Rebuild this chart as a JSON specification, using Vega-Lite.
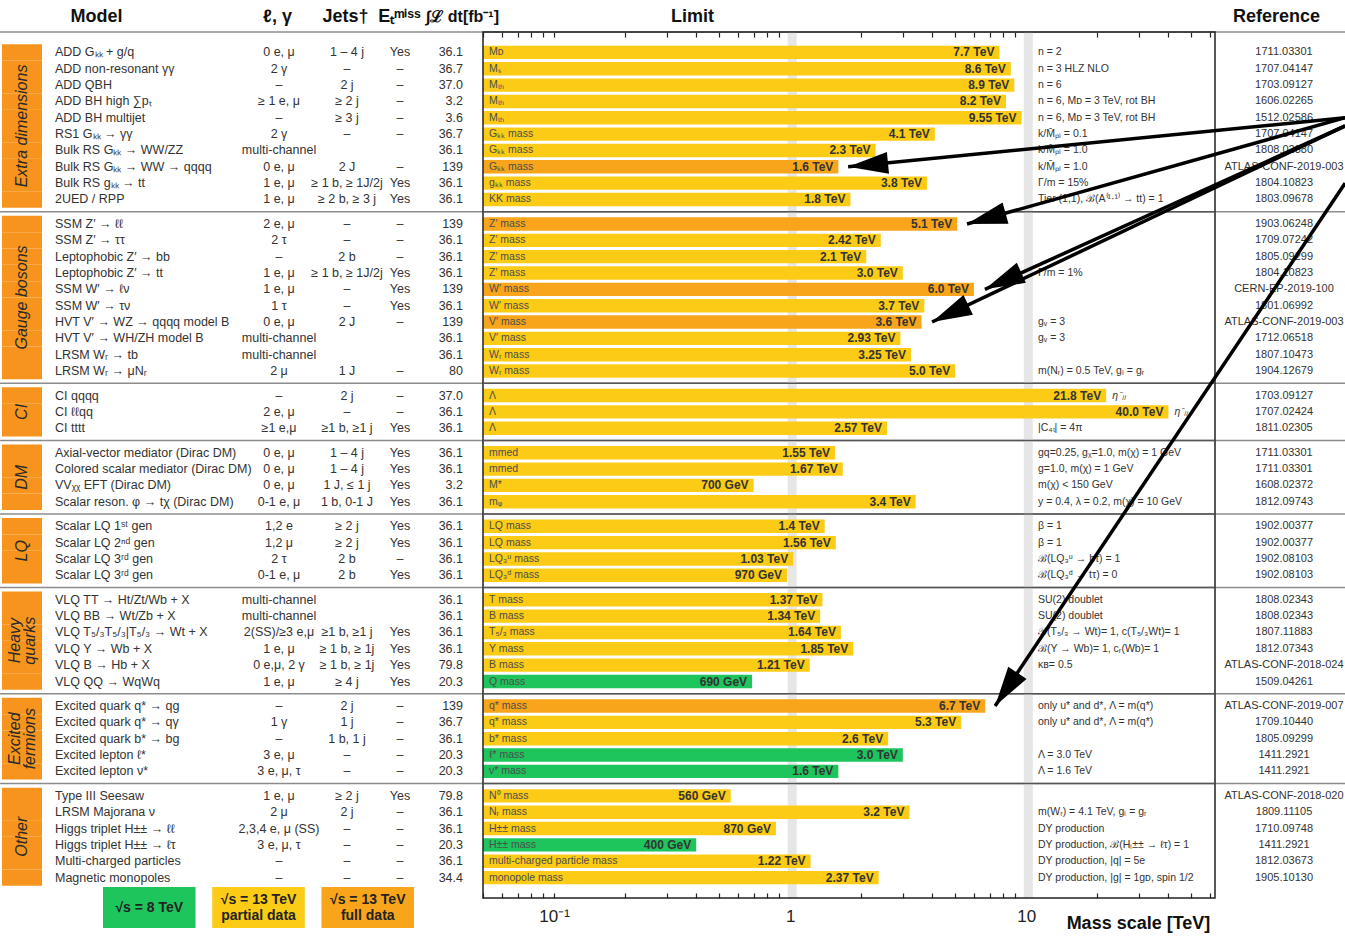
{
"$schema": "https://vega.github.io/schema/vega-lite/v6.json",
"width": 1345,
"height": 866,
"autosize": {"type": "none"},
"padding": {"top": 32, "bottom": 38, "left": 0, "right": 0},
"background": "white",
"config": {"view": {"stroke": null}, "font": "Liberation Sans"},
"datasets": {
"rows": [
{"id":"ed1","model":"ADD Gₖₖ + g/q","lep":"0 e, μ","jets":"1 – 4 j","met":"Yes","lumi":"36.1","name":"Mᴅ","limit":7.7,"label":"7.7 TeV","cat":"13 TeV partial","cond":"n = 2","ref":"1711.03301"},
{"id":"ed2","model":"ADD non-resonant γγ","lep":"2 γ","jets":"–","met":"–","lumi":"36.7","name":"Mₛ","limit":8.6,"label":"8.6 TeV","cat":"13 TeV partial","cond":"n = 3 HLZ NLO","ref":"1707.04147"},
{"id":"ed3","model":"ADD QBH","lep":"–","jets":"2 j","met":"–","lumi":"37.0","name":"Mₜₕ","limit":8.9,"label":"8.9 TeV","cat":"13 TeV partial","cond":"n = 6","ref":"1703.09127"},
{"id":"ed4","model":"ADD BH high ∑pₜ","lep":"≥ 1 e, μ","jets":"≥ 2 j","met":"–","lumi":"3.2","name":"Mₜₕ","limit":8.2,"label":"8.2 TeV","cat":"13 TeV partial","cond":"n = 6, Mᴅ = 3 TeV, rot BH","ref":"1606.02265"},
{"id":"ed5","model":"ADD BH multijet","lep":"–","jets":"≥ 3 j","met":"–","lumi":"3.6","name":"Mₜₕ","limit":9.55,"label":"9.55 TeV","cat":"13 TeV partial","cond":"n = 6, Mᴅ = 3 TeV, rot BH","ref":"1512.02586"},
{"id":"ed6","model":"RS1 Gₖₖ → γγ","lep":"2 γ","jets":"–","met":"–","lumi":"36.7","name":"Gₖₖ mass","limit":4.1,"label":"4.1 TeV","cat":"13 TeV partial","cond":"k/M̄ₚₗ = 0.1","ref":"1707.04147"},
{"id":"ed7","model":"Bulk RS Gₖₖ → WW/ZZ","lep":"multi-channel","jets":"","met":"","lumi":"36.1","name":"Gₖₖ mass","limit":2.3,"label":"2.3 TeV","cat":"13 TeV partial","cond":"k/M̄ₚₗ = 1.0","ref":"1808.02380"},
{"id":"ed8","model":"Bulk RS Gₖₖ → WW → qqqq","lep":"0 e, μ","jets":"2 J","met":"–","lumi":"139","name":"Gₖₖ mass","limit":1.6,"label":"1.6 TeV","cat":"13 TeV full","cond":"k/M̄ₚₗ = 1.0","ref":"ATLAS-CONF-2019-003"},
{"id":"ed9","model":"Bulk RS gₖₖ → tt","lep":"1 e, μ","jets":"≥ 1 b, ≥ 1J/2j","met":"Yes","lumi":"36.1","name":"gₖₖ mass","limit":3.8,"label":"3.8 TeV","cat":"13 TeV partial","cond":"Γ/m = 15%","ref":"1804.10823"},
{"id":"ed10","model":"2UED / RPP","lep":"1 e, μ","jets":"≥ 2 b, ≥ 3 j","met":"Yes","lumi":"36.1","name":"KK mass","limit":1.8,"label":"1.8 TeV","cat":"13 TeV partial","cond":"Tier (1,1), ℬ(A⁽¹·¹⁾ → tt) = 1","ref":"1803.09678"},
{"id":"gb1","model":"SSM Z′ → ℓℓ","lep":"2 e, μ","jets":"–","met":"–","lumi":"139","name":"Z′ mass","limit":5.1,"label":"5.1 TeV","cat":"13 TeV full","cond":"","ref":"1903.06248"},
{"id":"gb2","model":"SSM Z′ → ττ","lep":"2 τ","jets":"–","met":"–","lumi":"36.1","name":"Z′ mass","limit":2.42,"label":"2.42 TeV","cat":"13 TeV partial","cond":"","ref":"1709.07242"},
{"id":"gb3","model":"Leptophobic Z′ → bb","lep":"–","jets":"2 b","met":"–","lumi":"36.1","name":"Z′ mass","limit":2.1,"label":"2.1 TeV","cat":"13 TeV partial","cond":"","ref":"1805.09299"},
{"id":"gb4","model":"Leptophobic Z′ → tt","lep":"1 e, μ","jets":"≥ 1 b, ≥ 1J/2j","met":"Yes","lumi":"36.1","name":"Z′ mass","limit":3.0,"label":"3.0 TeV","cat":"13 TeV partial","cond":"Γ/m = 1%","ref":"1804.10823"},
{"id":"gb5","model":"SSM W′ → ℓν","lep":"1 e, μ","jets":"–","met":"Yes","lumi":"139","name":"W′ mass","limit":6.0,"label":"6.0 TeV","cat":"13 TeV full","cond":"","ref":"CERN-EP-2019-100"},
{"id":"gb6","model":"SSM W′ → τν","lep":"1 τ","jets":"–","met":"Yes","lumi":"36.1","name":"W′ mass","limit":3.7,"label":"3.7 TeV","cat":"13 TeV partial","cond":"","ref":"1801.06992"},
{"id":"gb7","model":"HVT V′ → WZ → qqqq model B","lep":"0 e, μ","jets":"2 J","met":"–","lumi":"139","name":"V′ mass","limit":3.6,"label":"3.6 TeV","cat":"13 TeV full","cond":"gᵥ = 3","ref":"ATLAS-CONF-2019-003"},
{"id":"gb8","model":"HVT V′ → WH/ZH model B","lep":"multi-channel","jets":"","met":"","lumi":"36.1","name":"V′ mass","limit":2.93,"label":"2.93 TeV","cat":"13 TeV partial","cond":"gᵥ = 3","ref":"1712.06518"},
{"id":"gb9","model":"LRSM Wᵣ → tb","lep":"multi-channel","jets":"","met":"","lumi":"36.1","name":"Wᵣ mass","limit":3.25,"label":"3.25 TeV","cat":"13 TeV partial","cond":"","ref":"1807.10473"},
{"id":"gb10","model":"LRSM Wᵣ → μNᵣ","lep":"2 μ","jets":"1 J","met":"–","lumi":"80","name":"Wᵣ mass","limit":5.0,"label":"5.0 TeV","cat":"13 TeV partial","cond":"m(Nᵣ) = 0.5 TeV, gₗ = gᵣ","ref":"1904.12679"},
{"id":"ci1","model":"CI qqqq","lep":"–","jets":"2 j","met":"–","lumi":"37.0","name":"Λ","limit":21.8,"label":"21.8 TeV","cat":"13 TeV partial","cond":"","note":"η⁻ₗₗ","ref":"1703.09127"},
{"id":"ci2","model":"CI ℓℓqq","lep":"2 e, μ","jets":"–","met":"–","lumi":"36.1","name":"Λ","limit":40.0,"label":"40.0 TeV","cat":"13 TeV partial","cond":"","note":"η⁻ₗₗ","ref":"1707.02424"},
{"id":"ci3","model":"CI tttt","lep":"≥1 e,μ","jets":"≥1 b, ≥1 j","met":"Yes","lumi":"36.1","name":"Λ","limit":2.57,"label":"2.57 TeV","cat":"13 TeV partial","cond":"|C₄ₜ| = 4π","ref":"1811.02305"},
{"id":"dm1","model":"Axial-vector mediator (Dirac DM)","lep":"0 e, μ","jets":"1 – 4 j","met":"Yes","lumi":"36.1","name":"mmed","limit":1.55,"label":"1.55 TeV","cat":"13 TeV partial","cond":"gq=0.25, gᵪ=1.0, m(χ) = 1 GeV","ref":"1711.03301"},
{"id":"dm2","model":"Colored scalar mediator (Dirac DM)","lep":"0 e, μ","jets":"1 – 4 j","met":"Yes","lumi":"36.1","name":"mmed","limit":1.67,"label":"1.67 TeV","cat":"13 TeV partial","cond":"g=1.0, m(χ) = 1 GeV","ref":"1711.03301"},
{"id":"dm3","model":"VVᵪᵪ EFT (Dirac DM)","lep":"0 e, μ","jets":"1 J, ≤ 1 j","met":"Yes","lumi":"3.2","name":"M*","limit":0.7,"label":"700 GeV","cat":"13 TeV partial","cond":"m(χ) < 150 GeV","ref":"1608.02372"},
{"id":"dm4","model":"Scalar reson. φ → tχ (Dirac DM)","lep":"0-1 e, μ","jets":"1 b, 0-1 J","met":"Yes","lumi":"36.1","name":"mᵩ","limit":3.4,"label":"3.4 TeV","cat":"13 TeV partial","cond":"y = 0.4, λ = 0.2, m(χ) = 10 GeV","ref":"1812.09743"},
{"id":"lq1","model":"Scalar LQ 1ˢᵗ gen","lep":"1,2 e","jets":"≥ 2 j","met":"Yes","lumi":"36.1","name":"LQ mass","limit":1.4,"label":"1.4 TeV","cat":"13 TeV partial","cond":"β = 1","ref":"1902.00377"},
{"id":"lq2","model":"Scalar LQ 2ⁿᵈ gen","lep":"1,2 μ","jets":"≥ 2 j","met":"Yes","lumi":"36.1","name":"LQ mass","limit":1.56,"label":"1.56 TeV","cat":"13 TeV partial","cond":"β = 1","ref":"1902.00377"},
{"id":"lq3","model":"Scalar LQ 3ʳᵈ gen","lep":"2 τ","jets":"2 b","met":"–","lumi":"36.1","name":"LQ₃ᵘ mass","limit":1.03,"label":"1.03 TeV","cat":"13 TeV partial","cond":"ℬ(LQ₃ᵘ → bτ) = 1","ref":"1902.08103"},
{"id":"lq4","model":"Scalar LQ 3ʳᵈ gen","lep":"0-1 e, μ","jets":"2 b","met":"Yes","lumi":"36.1","name":"LQ₃ᵈ mass","limit":0.97,"label":"970 GeV","cat":"13 TeV partial","cond":"ℬ(LQ₃ᵈ → tτ) = 0","ref":"1902.08103"},
{"id":"hq1","model":"VLQ TT → Ht/Zt/Wb + X","lep":"multi-channel","jets":"","met":"","lumi":"36.1","name":"T mass","limit":1.37,"label":"1.37 TeV","cat":"13 TeV partial","cond":"SU(2) doublet","ref":"1808.02343"},
{"id":"hq2","model":"VLQ BB → Wt/Zb + X","lep":"multi-channel","jets":"","met":"","lumi":"36.1","name":"B mass","limit":1.34,"label":"1.34 TeV","cat":"13 TeV partial","cond":"SU(2) doublet","ref":"1808.02343"},
{"id":"hq3","model":"VLQ T₅/₃T₅/₃|T₅/₃ → Wt + X","lep":"2(SS)/≥3 e,μ","jets":"≥1 b, ≥1 j","met":"Yes","lumi":"36.1","name":"T₅/₃ mass","limit":1.64,"label":"1.64 TeV","cat":"13 TeV partial","cond":"ℬ(T₅/₃ → Wt)= 1, c(T₅/₃Wt)= 1","ref":"1807.11883"},
{"id":"hq4","model":"VLQ Y → Wb + X","lep":"1 e, μ","jets":"≥ 1 b, ≥ 1j","met":"Yes","lumi":"36.1","name":"Y mass","limit":1.85,"label":"1.85 TeV","cat":"13 TeV partial","cond":"ℬ(Y → Wb)= 1, cᵣ(Wb)= 1","ref":"1812.07343"},
{"id":"hq5","model":"VLQ B → Hb + X","lep":"0 e,μ, 2 γ","jets":"≥ 1 b, ≥ 1j","met":"Yes","lumi":"79.8","name":"B mass","limit":1.21,"label":"1.21 TeV","cat":"13 TeV partial","cond":"κʙ= 0.5","ref":"ATLAS-CONF-2018-024"},
{"id":"hq6","model":"VLQ QQ → WqWq","lep":"1 e, μ","jets":"≥ 4 j","met":"Yes","lumi":"20.3","name":"Q mass","limit":0.69,"label":"690 GeV","cat":"8 TeV","cond":"","ref":"1509.04261"},
{"id":"ef1","model":"Excited quark q* → qg","lep":"–","jets":"2 j","met":"–","lumi":"139","name":"q* mass","limit":6.7,"label":"6.7 TeV","cat":"13 TeV full","cond":"only u* and d*, Λ = m(q*)","ref":"ATLAS-CONF-2019-007"},
{"id":"ef2","model":"Excited quark q* → qγ","lep":"1 γ","jets":"1 j","met":"–","lumi":"36.7","name":"q* mass","limit":5.3,"label":"5.3 TeV","cat":"13 TeV partial","cond":"only u* and d*, Λ = m(q*)","ref":"1709.10440"},
{"id":"ef3","model":"Excited quark b* → bg","lep":"–","jets":"1 b, 1 j","met":"–","lumi":"36.1","name":"b* mass","limit":2.6,"label":"2.6 TeV","cat":"13 TeV partial","cond":"","ref":"1805.09299"},
{"id":"ef4","model":"Excited lepton ℓ*","lep":"3 e, μ","jets":"–","met":"–","lumi":"20.3","name":"ℓ* mass","limit":3.0,"label":"3.0 TeV","cat":"8 TeV","cond":"Λ = 3.0 TeV","ref":"1411.2921"},
{"id":"ef5","model":"Excited lepton ν*","lep":"3 e, μ, τ","jets":"–","met":"–","lumi":"20.3","name":"ν* mass","limit":1.6,"label":"1.6 TeV","cat":"8 TeV","cond":"Λ = 1.6 TeV","ref":"1411.2921"},
{"id":"ot1","model":"Type III Seesaw","lep":"1 e, μ","jets":"≥ 2 j","met":"Yes","lumi":"79.8","name":"N⁰ mass","limit":0.56,"label":"560 GeV","cat":"13 TeV partial","cond":"","ref":"ATLAS-CONF-2018-020"},
{"id":"ot2","model":"LRSM Majorana ν","lep":"2 μ","jets":"2 j","met":"–","lumi":"36.1","name":"Nᵣ mass","limit":3.2,"label":"3.2 TeV","cat":"13 TeV partial","cond":"m(Wᵣ) = 4.1 TeV, gₗ = gᵣ","ref":"1809.11105"},
{"id":"ot3","model":"Higgs triplet H±± → ℓℓ","lep":"2,3,4 e, μ (SS)","jets":"–","met":"–","lumi":"36.1","name":"H±± mass","limit":0.87,"label":"870 GeV","cat":"13 TeV partial","cond":"DY production","ref":"1710.09748"},
{"id":"ot4","model":"Higgs triplet H±± → ℓτ","lep":"3 e, μ, τ","jets":"–","met":"–","lumi":"20.3","name":"H±± mass","limit":0.4,"label":"400 GeV","cat":"8 TeV","cond":"DY production, ℬ(Hₗ±± → ℓτ) = 1","ref":"1411.2921"},
{"id":"ot5","model":"Multi-charged particles","lep":"–","jets":"–","met":"–","lumi":"36.1","name":"multi-charged particle mass","limit":1.22,"label":"1.22 TeV","cat":"13 TeV partial","cond":"DY production, |q| = 5e","ref":"1812.03673"},
{"id":"ot6","model":"Magnetic monopoles","lep":"–","jets":"–","met":"–","lumi":"34.4","name":"monopole mass","limit":2.37,"label":"2.37 TeV","cat":"13 TeV partial","cond":"DY production, |g| = 1gᴅ, spin 1/2","ref":"1905.10130"}
],
"groups": [
{"group":"Extra dimensions","mid":"ed5_"},
{"group":"Gauge bosons","mid":"gb5_"},
{"group":"CI","mid":"ci2"},
{"group":"DM","mid":"dm2_"},
{"group":"LQ","mid":"lq2_"},
{"group":"Heavy\nquarks","mid":"hq3_"},
{"group":"Excited\nfermions","mid":"ef3"},
{"group":"Other","mid":"ot3_"}
],
"seps": [{"id":"t1"},{"id":"g1"},{"id":"g2"},{"id":"g3"},{"id":"g4"},{"id":"g5"},{"id":"g6"},{"id":"g7"}],
"bands": [{"v":1},{"v":10}],
"frame": [{"f":1}],
"arrows": [
{"arrow":"a1","end":"tail","mass":224,"id":"ed5"},
{"arrow":"a1","end":"tip","mass":1.76,"id":"ed8","angle":174.4},
{"arrow":"a2","end":"tail","mass":224,"id":"ed5"},
{"arrow":"a2","end":"tip","mass":5.61,"id":"gb1","angle":164.3},
{"arrow":"a3","end":"tail","mass":224,"id":"ed5_"},
{"arrow":"a3","end":"tip","mass":6.68,"id":"gb5","angle":155.6},
{"arrow":"a4","end":"tail","mass":224,"id":"ed5_"},
{"arrow":"a4","end":"tip","mass":3.99,"id":"gb7","angle":154.6},
{"arrow":"a5","end":"tail","mass":224,"id":"ed9"},
{"arrow":"a5","end":"tip","mass":7.38,"id":"ef1","angle":123.8}
],
"legend": [
{"cat":"8 TeV","text":"√s = 8 TeV"},
{"cat":"13 TeV partial","text":"√s = 13 TeV\npartial data"},
{"cat":"13 TeV full","text":"√s = 13 TeV\nfull data"}
]
},
"layer": [
{
"layer": [
{
"data": {"name": "seps"},
"mark": {"type": "rule", "color": "#8c8c8c", "strokeWidth": 1.5},
"encoding": {
"y": {"field": "id", "type": "nominal", "bandPosition": 0, "axis": null,
"scale": {"type": "band", "paddingInner": 0, "paddingOuter": 0, "domain": ["t1","t2","ed1","ed1_","ed2","ed2_","ed3","ed3_","ed4","ed4_","ed5","ed5_","ed6","ed6_","ed7","ed7_","ed8","ed8_","ed9","ed9_","ed10","ed10_","g1","gb1","gb1_","gb2","gb2_","gb3","gb3_","gb4","gb4_","gb5","gb5_","gb6","gb6_","gb7","gb7_","gb8","gb8_","gb9","gb9_","gb10","gb10_","g2","ci1","ci1_","ci2","ci2_","ci3","ci3_","g3","dm1","dm1_","dm2","dm2_","dm3","dm3_","dm4","dm4_","g4","lq1","lq1_","lq2","lq2_","lq3","lq3_","lq4","lq4_","g5","hq1","hq1_","hq2","hq2_","hq3","hq3_","hq4","hq4_","hq5","hq5_","hq6","hq6_","g6","ef1","ef1_","ef2","ef2_","ef3","ef3_","ef4","ef4_","ef5","ef5_","g7","ot1","ot1_","ot2","ot2_","ot3","ot3_","ot4","ot4_","ot5","ot5_","ot6","ot6_","b1"]}}
}
},
{
"layer": [
{
"data": {"name": "rows"},
"mark": {"type": "bar", "color": "#f7941d", "height": 16.4},
"encoding": {
"x": {"datum": 0, "type": "quantitative", "scale": {"domain": [0, 1], "range": [2, 42], "nice": false, "zero": false}, "axis": null},
"x2": {"datum": 1},
"y": {"field": "id", "type": "nominal", "axis": null}
}
},
{
"data": {"name": "groups"},
"transform": [{"filter": "indexof(datum.group, '\\n') < 0"}],
"mark": {"type": "text", "angle": 270, "fontSize": 16, "fontStyle": "italic", "color": "#2a2a2a"},
"encoding": {
"x": {"datum": 0.5, "type": "quantitative"},
"y": {"field": "mid", "type": "nominal", "axis": null},
"text": {"field": "group"}
}
},
{
"data": {"name": "groups"},
"transform": [{"filter": "indexof(datum.group, '\\n') >= 0"}],
"mark": {"type": "text", "angle": 270, "fontSize": 16, "fontStyle": "italic", "color": "#2a2a2a", "lineBreak": "\n", "lineHeight": 15, "dy": -7.5},
"encoding": {
"x": {"datum": 0.5, "type": "quantitative"},
"y": {"field": "mid", "type": "nominal", "axis": null},
"text": {"field": "group"}
}
}
]
},
{
"data": {"name": "rows"},
"mark": {"type": "text", "align": "left", "fontSize": 12.5, "color": "#333"},
"encoding": {
"x": {"datum": "model", "type": "nominal", "scale": {"type": "point", "domain": ["model"], "range": [55, 55]},
"axis": {"orient": "top", "labels": false, "ticks": false, "domain": false, "grid": false, "title": "Model", "titleX": 96, "titleY": -16, "titleAlign": "center", "titleBaseline": "middle", "titleAngle": 0, "titleFontSize": 18, "titleFontWeight": "bold", "titleColor": "#111"}},
"y": {"field": "id", "type": "nominal", "axis": null},
"text": {"field": "model"}
}
},
{
"data": {"name": "rows"},
"mark": {"type": "text", "align": "center", "fontSize": 12.5, "color": "#333"},
"encoding": {
"x": {"datum": "lep", "type": "nominal", "scale": {"type": "point", "domain": ["lep"], "range": [279, 279]},
"axis": {"orient": "top", "labels": false, "ticks": false, "domain": false, "grid": false, "title": "ℓ, γ", "titleX": 277, "titleY": -16, "titleAlign": "center", "titleBaseline": "middle", "titleAngle": 0, "titleFontSize": 18, "titleFontWeight": "bold", "titleColor": "#111"}},
"y": {"field": "id", "type": "nominal", "axis": null},
"text": {"field": "lep"}
}
},
{
"data": {"name": "rows"},
"mark": {"type": "text", "align": "center", "fontSize": 12.5, "color": "#333"},
"encoding": {
"x": {"datum": "jets", "type": "nominal", "scale": {"type": "point", "domain": ["jets"], "range": [347, 347]},
"axis": {"orient": "top", "labels": false, "ticks": false, "domain": false, "grid": false, "title": "Jets†", "titleX": 345, "titleY": -16, "titleAlign": "center", "titleBaseline": "middle", "titleAngle": 0, "titleFontSize": 18, "titleFontWeight": "bold", "titleColor": "#111"}},
"y": {"field": "id", "type": "nominal", "axis": null},
"text": {"field": "jets"}
}
},
{
"data": {"name": "rows"},
"mark": {"type": "text", "align": "center", "fontSize": 12.5, "color": "#333"},
"encoding": {
"x": {"datum": "met", "type": "nominal", "scale": {"type": "point", "domain": ["met"], "range": [400, 400]},
"axis": {"orient": "top", "labels": false, "ticks": false, "domain": false, "grid": false, "title": "Eₜᵐⁱˢˢ", "titleX": 399, "titleY": -16, "titleAlign": "center", "titleBaseline": "middle", "titleAngle": 0, "titleFontSize": 18, "titleFontWeight": "bold", "titleColor": "#111"}},
"y": {"field": "id", "type": "nominal", "axis": null},
"text": {"field": "met"}
}
},
{
"data": {"name": "rows"},
"mark": {"type": "text", "align": "right", "fontSize": 12.5, "color": "#333"},
"encoding": {
"x": {"datum": "lumi", "type": "nominal", "scale": {"type": "point", "domain": ["lumi"], "range": [463, 463]},
"axis": {"orient": "top", "labels": false, "ticks": false, "domain": false, "grid": false, "title": "∫ℒ dt[fb⁻¹]", "titleX": 462, "titleY": -16, "titleAlign": "center", "titleBaseline": "middle", "titleAngle": 0, "titleFontSize": 16, "titleFontWeight": "bold", "titleColor": "#111"}},
"y": {"field": "id", "type": "nominal", "axis": null},
"text": {"field": "lumi"}
}
},
{
"data": {"name": "rows"},
"layer": [
{
"data": {"name": "bands"},
"mark": {"type": "rule", "color": "#e6e6e6", "strokeWidth": 9, "xOffset": 2},
"encoding": {"x": {"field": "v", "type": "quantitative"}}
},
{
"mark": {"type": "bar", "height": 13.4},
"encoding": {
"x": {"field": "limit", "type": "quantitative",
"scale": {"type": "log", "domain": [0.05, 63], "range": [483, 1215], "nice": false},
"axis": {"orient": "bottom", "domain": false, "grid": false, "tickSize": -5, "tickColor": "#222", "tickWidth": 1.2, "labelPadding": 15, "labelFontSize": 17, "labelColor": "#222", "labelFlush": false, "labelOverlap": false,
"labelExpr": "abs(datum.value - 0.1) < 1e-9 ? '10⁻¹' : (abs(datum.value - 1) < 1e-9 ? '1' : (abs(datum.value - 10) < 1e-9 ? '10' : ''))",
"title": "Mass scale [TeV]", "titleX": 1138, "titleY": 25, "titleAlign": "center", "titleBaseline": "middle", "titleFontSize": 18, "titleFontWeight": "bold", "titleColor": "#111"}},
"x2": {"datum": 0.05},
"y": {"field": "id", "type": "nominal", "axis": null},
"color": {"field": "cat", "type": "nominal", "legend": null,
"scale": {"domain": ["8 TeV", "13 TeV partial", "13 TeV full"], "range": ["#1ec45c", "#fccb16", "#f8a51c"]}}
}
},
{
"mark": {"type": "text", "align": "left", "dx": 6, "fontSize": 10.5, "color": "#4d4d4d"},
"encoding": {
"x": {"datum": 0.05, "type": "quantitative"},
"y": {"field": "id", "type": "nominal", "axis": null},
"text": {"field": "name"}
}
},
{
"mark": {"type": "text", "align": "right", "dx": -5, "fontSize": 12, "fontWeight": "bold", "color": "#333"},
"encoding": {
"x": {"field": "limit", "type": "quantitative"},
"y": {"field": "id", "type": "nominal", "axis": null},
"text": {"field": "label"}
}
},
{
"transform": [{"filter": "isValid(datum.note)"}],
"mark": {"type": "text", "align": "left", "dx": 6, "fontSize": 10.5, "fontStyle": "italic", "color": "#333"},
"encoding": {
"x": {"field": "limit", "type": "quantitative"},
"y": {"field": "id", "type": "nominal", "axis": null},
"text": {"field": "note"}
}
}
]
},
{
"data": {"name": "rows"},
"mark": {"type": "text", "align": "left", "fontSize": 10.5, "color": "#333"},
"encoding": {
"x": {"datum": "cond", "type": "nominal", "scale": {"type": "point", "domain": ["cond"], "range": [1038, 1038]}, "axis": null},
"y": {"field": "id", "type": "nominal", "axis": null},
"text": {"field": "cond"}
}
},
{
"data": {"name": "rows"},
"mark": {"type": "text", "align": "center", "fontSize": 11, "color": "#333"},
"encoding": {
"x": {"datum": "ref", "type": "nominal", "scale": {"type": "point", "domain": ["ref"], "range": [1284, 1284]},
"axis": {"orient": "top", "labels": false, "ticks": false, "domain": false, "grid": false, "title": "Reference", "titleX": 1276, "titleY": -16, "titleAlign": "center", "titleBaseline": "middle", "titleAngle": 0, "titleFontSize": 18, "titleFontWeight": "bold", "titleColor": "#111"}},
"y": {"field": "id", "type": "nominal", "axis": null},
"text": {"field": "ref"}
}
},
{
"layer": [
{
"data": {"name": "frame"},
"mark": {"type": "rect", "filled": false, "stroke": "#222", "strokeWidth": 1.5},
"encoding": {
"x": {"datum": 0.05, "type": "quantitative",
"scale": {"type": "log", "domain": [0.05, 63], "range": [483, 1215], "nice": false},
"axis": {"orient": "top", "labels": false, "domain": false, "grid": false, "tickSize": -5, "tickColor": "#222", "tickWidth": 1.2, "title": "Limit", "titleX": 692, "titleY": -16, "titleAlign": "center", "titleBaseline": "middle", "titleAngle": 0, "titleFontSize": 18, "titleFontWeight": "bold", "titleColor": "#111"}},
"x2": {"datum": 63}
}
},
{
"data": {"name": "seps"},
"transform": [{"filter": "datum.id != 't1'"}],
"mark": {"type": "rule", "color": "#555", "strokeWidth": 1.5},
"encoding": {
"x": {"datum": 0.05, "type": "quantitative"},
"x2": {"datum": 63},
"y": {"field": "id", "type": "nominal", "bandPosition": 0, "axis": null}
}
},
{
"data": {"name": "arrows"},
"mark": {"type": "line", "color": "black", "strokeWidth": 3.5},
"encoding": {
"x": {"field": "mass", "type": "quantitative"},
"y": {"field": "id", "type": "nominal", "axis": null},
"detail": {"field": "arrow"}
}
},
{
"data": {"name": "arrows"},
"transform": [{"filter": "datum.end == 'tip'"}],
"mark": {"type": "point", "shape": "M0,0L-2,-0.55L-2,0.55Z", "size": 1600, "filled": true, "color": "black", "opacity": 1, "strokeWidth": 0},
"encoding": {
"x": {"field": "mass", "type": "quantitative"},
"y": {"field": "id", "type": "nominal", "axis": null},
"angle": {"field": "angle", "type": "quantitative", "scale": null}
}
}
]
}
],
"resolve": {"scale": {"x": "independent"}, "axis": {"x": "independent"}}
},
{
"data": {"name": "legend"},
"encoding": {
"x": {"field": "cat", "type": "nominal", "axis": null,
"scale": {"type": "band", "domain": ["8 TeV", "13 TeV partial", "13 TeV full"], "range": [103, 414], "paddingInner": 0.153, "paddingOuter": 0}},
"y": {"datum": "legend", "type": "nominal", "axis": null,
"scale": {"type": "band", "domain": ["legend"], "range": [855, 896], "paddingInner": 0, "paddingOuter": 0}}
},
"layer": [
{"mark": {"type": "rect"}, "encoding": {"color": {"field": "cat", "type": "nominal", "legend": null}}},
{"transform": [{"filter": "indexof(datum.text, '\\n') < 0"}], "mark": {"type": "text", "fontSize": 14, "fontWeight": "bold", "color": "#222"}, "encoding": {"text": {"field": "text"}}},
{"transform": [{"filter": "indexof(datum.text, '\\n') >= 0"}], "mark": {"type": "text", "fontSize": 14, "fontWeight": "bold", "color": "#222", "lineBreak": "\n", "lineHeight": 16, "dy": -8}, "encoding": {"text": {"field": "text"}}}
]
}
],
"resolve": {"scale": {"x": "independent", "y": "independent"}, "axis": {"x": "independent", "y": "independent"}}
}
